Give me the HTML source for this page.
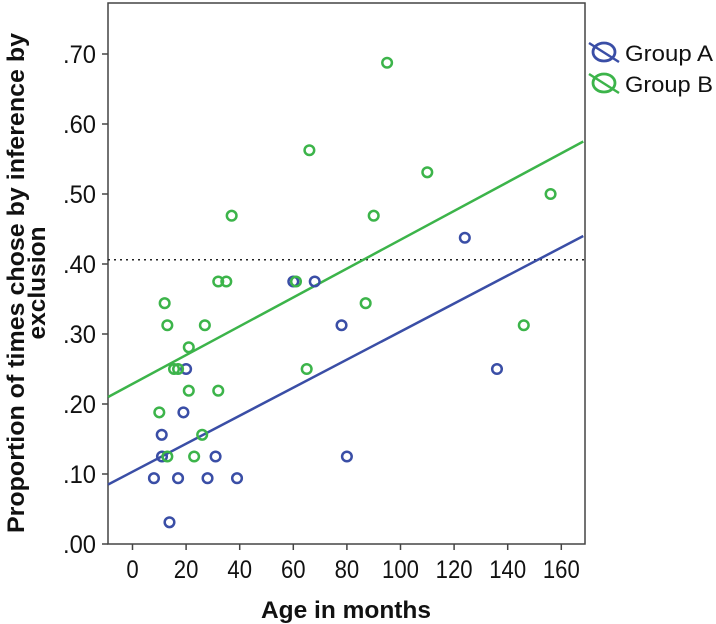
<!DOCTYPE html>
<html><head><meta charset="utf-8"><style>
body{margin:0;background:#fff}
svg{display:block;font-family:"Liberation Sans",Arial,sans-serif}
</style></head><body>
<svg id="chart" width="716" height="624" viewBox="0 0 716 624"></svg>
<script>
const xTicks=[0,20,40,60,80,100,120,140,160];
const yTicks=[0,0.1,0.2,0.3,0.4,0.5,0.6,0.7];
const yTickLabels=[".00",".10",".20",".30",".40",".50",".60",".70"];
const groupAAge=[8,10.9,11,13.8,17,19,20,28,31,39,60,68,78,80,124,136];
const groupAVal=[.094,.156,.125,.031,.094,.188,.25,.094,.125,.094,.375,.375,.3125,.125,.4375,.25];
const groupBAge=[10,12,13,13,15.5,17,21,21,23,26,27,32,32,35,37,61,65,66,87,90,95,110,146,156];
const groupBVal=[.188,.344,.3125,.125,.25,.25,.281,.219,.125,.156,.3125,.375,.219,.375,.469,.375,.25,.5625,.344,.469,.6875,.531,.3125,.5];
const fitA=[[-9.1,0.085],[168.2,0.44]];
const fitB=[[-9.1,0.21],[168.2,0.575]];
const refLine=0.406;

const L=108,R=585,T=3,B=544;
const X=v=>132.5+v*2.68;
const Y=v=>544-v*700;
const svg=document.getElementById('chart');
const NS='http://www.w3.org/2000/svg';
function mk(tag,attrs,parent){const e=document.createElementNS(NS,tag);for(const k in attrs)e.setAttribute(k,attrs[k]);(parent||svg).appendChild(e);return e;}
const blue='#3a4ea6',green='#3cb44a';

const frame=mk('rect',{x:L,y:T,width:R-L,height:B-T,fill:'none',stroke:'#444','stroke-width':1.5});



xTicks.forEach(t=>{
  const tk=mk('line',{x1:X(t),x2:X(t),y1:B,y2:B+6,stroke:'#444','stroke-width':1.5});
  
  
  const s=String(t);
  const tx=mk('text',{x:X(t),y:578,'text-anchor':'middle','font-size':25,fill:'#111',textLength:s.length*12.3,lengthAdjust:'spacingAndGlyphs'});
  tx.textContent=s;
  
  
});
yTicks.forEach((t,i)=>{
  const tk=mk('line',{x1:L-6,x2:L,y1:Y(t),y2:Y(t),stroke:'#444','stroke-width':1.5});
  
  
  const tx=mk('text',{x:96,y:Y(t)+9,'text-anchor':'end','font-size':25,fill:'#111',textLength:33,lengthAdjust:'spacingAndGlyphs'});
  tx.textContent=yTickLabels[i];
  
  
});

const ref=mk('line',{x1:L,x2:R,y1:Y(refLine),y2:Y(refLine),stroke:'#222','stroke-width':1.5,'stroke-dasharray':'2,4'});



const la=mk('line',{x1:X(fitA[0][0]),y1:Y(fitA[0][1]),x2:X(fitA[1][0]),y2:Y(fitA[1][1]),stroke:blue,'stroke-width':2.5});


const lb=mk('line',{x1:X(fitB[0][0]),y1:Y(fitB[0][1]),x2:X(fitB[1][0]),y2:Y(fitB[1][1]),stroke:green,'stroke-width':2.5});



groupAAge.forEach((a,i)=>{
  const c=mk('circle',{cx:X(a),cy:Y(groupAVal[i]),r:4.8,fill:'none',stroke:blue,'stroke-width':2.5});
  
  
});
groupBAge.forEach((a,i)=>{
  const c=mk('circle',{cx:X(a),cy:Y(groupBVal[i]),r:4.8,fill:'none',stroke:green,'stroke-width':2.5});
  
  
});

[['Group A',blue,52],['Group B',green,83]].forEach(([n,col,y])=>{
  const g=mk('g',{});
  
  
  mk('ellipse',{cx:604,cy:y,rx:11,ry:9,fill:'none',stroke:col,'stroke-width':2.8},g);
  mk('line',{x1:589,y1:y-9,x2:619,y2:y+10,stroke:col,'stroke-width':2.5},g);
  const t=mk('text',{x:625,y:y+9,'font-size':22,fill:'#111',textLength:88,lengthAdjust:'spacingAndGlyphs'},g);
  t.textContent=n;
});

const yt=mk('text',{transform:'translate(24,283) rotate(-90)','text-anchor':'middle','font-size':24,'font-weight':'bold',fill:'#111',textLength:500,lengthAdjust:'spacingAndGlyphs'});
yt.textContent='Proportion of times chose by inference by';


const yt2=mk('text',{transform:'translate(45,283) rotate(-90)','text-anchor':'middle','font-size':24,'font-weight':'bold',fill:'#111',textLength:113,lengthAdjust:'spacingAndGlyphs'});
yt2.textContent='exclusion';



const xt=mk('text',{x:346,y:618,'text-anchor':'middle','font-size':24,'font-weight':'bold',fill:'#111',textLength:170,lengthAdjust:'spacingAndGlyphs'});
xt.textContent='Age in months';


</script>
</body></html>
